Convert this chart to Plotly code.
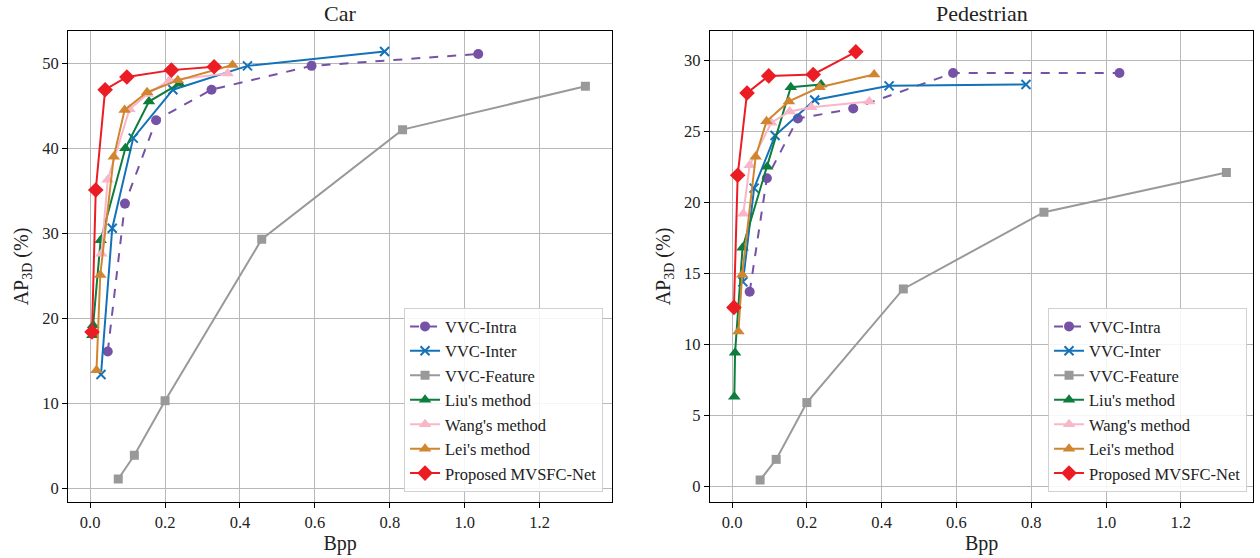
import plotly.graph_objects as go

# Bits-per-pixel operating points for each codec / method
bpp_intra = [0.047, 0.093, 0.176, 0.324, 0.591, 1.036]
bpp_inter = [0.029, 0.059, 0.115, 0.221, 0.420, 0.786]
bpp_feature = [0.075, 0.118, 0.200, 0.458, 0.834, 1.322]
bpp_liu = [0.006, 0.008, 0.028, 0.094, 0.157, 0.238]
bpp_wang = [0.030, 0.047, 0.105, 0.154, 0.212, 0.367]
bpp_lei = [0.017, 0.027, 0.063, 0.092, 0.152, 0.234, 0.380]
bpp_ours = [0.005, 0.015, 0.040, 0.098, 0.217, 0.331]

# AP_3D (%) on the Car class
car_intra = [16.1, 33.5, 43.3, 46.9, 49.7, 51.1]
car_inter = [13.4, 30.6, 41.2, 46.9, 49.7, 51.4]
car_feature = [1.1, 3.9, 10.3, 29.3, 42.2, 47.3]
car_liu = [18.0, 19.2, 29.2, 40.0, 45.5, 47.6]
car_wang = [27.6, 36.3, 44.6, 46.4, 48.0, 48.8]
car_lei = [13.9, 25.1, 39.0, 44.5, 46.6, 48.0, 49.8]
car_ours = [18.4, 35.1, 46.9, 48.4, 49.2, 49.6]

# AP_3D (%) on the Pedestrian class
ped_intra = [13.7, 21.7, 25.9, 26.6, 29.1, 29.1]
ped_inter = [14.4, 21.0, 24.7, 27.2, 28.2, 28.3]
ped_feature = [0.45, 1.9, 5.9, 13.9, 19.3, 22.1]
ped_liu = [6.3, 9.4, 16.8, 22.5, 28.1, 28.3]
ped_wang = [19.2, 22.6, 25.6, 26.4, 26.7, 27.1]
ped_lei = [10.9, 14.9, 23.2, 25.7, 27.1, 28.1, 29.0]
ped_ours = [12.6, 21.9, 27.7, 28.9, 29.0, 30.6]

x_ticks = [0.0, 0.2, 0.4, 0.6, 0.8, 1.0, 1.2]
car_y_ticks = [0, 10, 20, 30, 40, 50]
ped_y_ticks = [0, 5, 10, 15, 20, 25, 30]

FONT = "Liberation Serif"

series = [
    # name, bpp, car, ped, color, symbol, size, dash
    ("VVC-Intra", bpp_intra, car_intra, ped_intra, "#7552a5", "circle", 10, "dash"),
    ("VVC-Inter", bpp_inter, car_inter, ped_inter, "#1372b8", "x-thin", 9, "solid"),
    ("VVC-Feature", bpp_feature, car_feature, ped_feature, "#999999", "square", 9, "solid"),
    ("Liu's method", bpp_liu, car_liu, ped_liu, "#0d7d3e", "triangle-up", 11, "solid"),
    ("Wang's method", bpp_wang, car_wang, ped_wang, "#f7b7c8", "triangle-up", 11, "solid"),
    ("Lei's method", bpp_lei, car_lei, ped_lei, "#d0852e", "triangle-up", 11, "solid"),
    ("Proposed MVSFC-Net", bpp_ours, car_ours, ped_ours, "#ec1c24", "diamond", 12, "solid"),
]

fig = go.Figure()
for name, bx, yc, yp, color, sym, size, dash in series:
    marker = dict(color=color, symbol=sym, size=size)
    if sym == "x-thin":
        marker["line"] = dict(color=color, width=2)
    line = dict(color=color, width=2, dash=dash)
    fig.add_trace(go.Scatter(x=bx, y=yc, mode="lines+markers", name=name,
                             line=line, marker=marker, xaxis="x", yaxis="y",
                             legend="legend"))
    fig.add_trace(go.Scatter(x=bx, y=yp, mode="lines+markers", name=name,
                             line=line, marker=marker, xaxis="x2", yaxis="y2",
                             legend="legend2"))

axis_common = dict(
    showline=True, linecolor="black", linewidth=1.2, mirror=True,
    ticks="outside", ticklen=5, tickcolor="black", tickwidth=1,
    showgrid=True, gridcolor="#b8b8b8", gridwidth=1.3, zeroline=False,
    tickfont=dict(family=FONT, size=16.5, color="#222"),
)

xr = [-0.059, 1.394]
title_font = dict(family=FONT, size=20, color="#222")
legend_common = dict(
    xanchor="right", yanchor="bottom", y=0.118,
    bgcolor="rgba(255,255,255,0.85)", bordercolor="#d0d0d0", borderwidth=1,
    font=dict(family=FONT, size=16.5, color="#222"), tracegroupgap=0,
)

fig.update_layout(
    width=1260, height=558,
    margin=dict(l=0, r=0, t=0, b=0),
    paper_bgcolor="white", plot_bgcolor="white",
    font=dict(family=FONT, color="#222"),
    xaxis=dict(domain=[0.054, 0.486], range=xr, tickvals=x_ticks, tickformat=".1f",
               title=dict(text="Bpp", font=title_font, standoff=4),
               anchor="y", **axis_common),
    yaxis=dict(domain=[0.1004, 0.9444], range=[-1.6, 53.8], tickvals=car_y_ticks,
               title=dict(text="AP<sub>3D</sub> (%)", font=title_font, standoff=8),
               anchor="x", **axis_common),
    xaxis2=dict(domain=[0.5635, 0.9947], range=xr, tickvals=x_ticks, tickformat=".1f",
                title=dict(text="Bpp", font=title_font, standoff=4),
                anchor="y2", **axis_common),
    yaxis2=dict(domain=[0.1004, 0.9444], range=[-1.1, 32.06], tickvals=ped_y_ticks,
                title=dict(text="AP<sub>3D</sub> (%)", font=title_font, standoff=8),
                anchor="x2", **axis_common),
    legend=dict(x=0.4786, **legend_common),
    legend2=dict(x=0.9897, **legend_common),
    annotations=[
        dict(text="Car", x=0.27, y=0.9444, xref="paper", yref="paper",
             xanchor="center", yanchor="bottom", yshift=3, showarrow=False,
             font=dict(family=FONT, size=22, color="#222")),
        dict(text="Pedestrian", x=0.7791, y=0.9444, xref="paper", yref="paper",
             xanchor="center", yanchor="bottom", yshift=3, showarrow=False,
             font=dict(family=FONT, size=22, color="#222")),
    ],
)

fig.write_html("out.html")
